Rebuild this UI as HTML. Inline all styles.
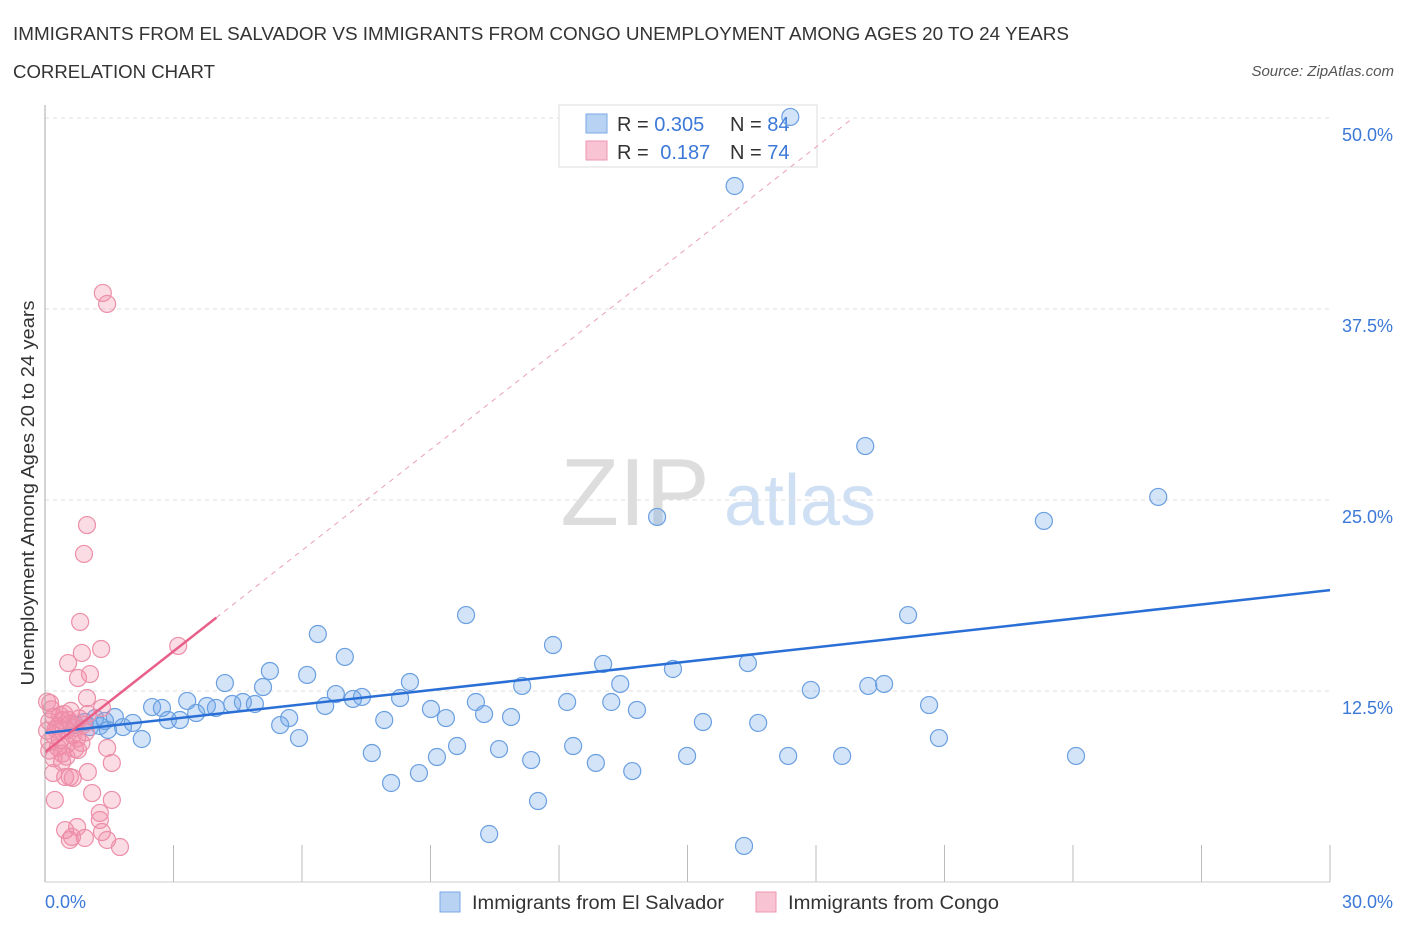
<!DOCTYPE html>
<html><head><meta charset="utf-8"><style>
body{margin:0;background:#fff;font-family:"Liberation Sans",sans-serif;}
svg text{font-family:"Liberation Sans",sans-serif;}
</style></head><body>
<svg id="chart" width="1406" height="930" xmlns="http://www.w3.org/2000/svg">
<text x="13" y="40" font-size="18" fill="#333" textLength="1056" lengthAdjust="spacingAndGlyphs">IMMIGRANTS FROM EL SALVADOR VS IMMIGRANTS FROM CONGO UNEMPLOYMENT AMONG AGES 20 TO 24 YEARS</text>
<text x="13" y="78" font-size="18" fill="#333" textLength="202" lengthAdjust="spacingAndGlyphs">CORRELATION CHART</text>
<text x="1394" y="76" font-size="15" fill="#555" text-anchor="end" font-style="italic">Source: ZipAtlas.com</text>
<g>
<text x="635" y="525" font-size="96" fill="#ddd" text-anchor="middle" font-family="Liberation Serif">ZIP</text>
<text x="800" y="525" font-size="72" fill="#d0e0f4" text-anchor="middle">atlas</text>
</g>
<g id="grid"></g><g id="ticks"></g>
<g>
<rect x="559" y="105" width="258" height="62" fill="#fff" stroke="#ddd"/>
<rect x="586" y="114" width="21" height="19" fill="#b8d2f4" stroke="#7aa8e6"/>
<rect x="586" y="141" width="21" height="19" fill="#f8c4d4" stroke="#ec96b0"/>
<text x="617" y="131" font-size="20" fill="#333">R = <tspan fill="#3b78d8">0.305</tspan><tspan x="730">N = </tspan><tspan fill="#3b78d8">84</tspan></text>
<text x="617" y="159" font-size="20" fill="#333">R = <tspan fill="#3b78d8" dx="6">0.187</tspan><tspan x="730">N = </tspan><tspan fill="#3b78d8">74</tspan></text>
</g>
<g id="pts"></g><g id="lines"></g>
<line x1="45" y1="105" x2="45" y2="882" stroke="#aaa"/>
<text transform="translate(34,493) rotate(-90)" font-size="18" fill="#333" text-anchor="middle" textLength="385" lengthAdjust="spacingAndGlyphs">Unemployment Among Ages 20 to 24 years</text>
<text x="45" y="908" font-size="18" fill="#3b78d8">0.0%</text>
<text x="1393" y="908" font-size="18" fill="#3b78d8" text-anchor="end">30.0%</text>
<g>
<rect x="440" y="892" width="20" height="20" fill="#b8d2f4" stroke="#7aa8e6"/>
<text x="472" y="909" font-size="19" fill="#333" textLength="252" lengthAdjust="spacingAndGlyphs">Immigrants from El Salvador</text>
<rect x="756" y="892" width="20" height="20" fill="#f8c4d4" stroke="#ec96b0"/>
<text x="788" y="909" font-size="19" fill="#333" textLength="211" lengthAdjust="spacingAndGlyphs">Immigrants from Congo</text>
</g>
</svg>
<script>
const yTicks=[12.5,25,37.5,50];
const yTickLabels=["12.5%","25.0%","37.5%","50.0%"];
const xTicks=[0,3,6,9,12,15,18,21,24,27,30];
const blueX=[17.4,16.1,19.15,25.99,23.32,14.29,20.15,9.83,6.37,11.86,7.0,13.03,5.25,6.12,8.52,14.66,16.41,13.43,11.14,5.09,4.2,17.88,19.22,19.59,6.79,7.4,7.19,8.29,10.06,12.19,13.22,20.64,3.32,2.5,2.73,3.78,3.99,4.37,4.62,4.9,3.53,6.54,9.01,10.25,13.82,2.87,3.15,9.36,10.88,5.7,5.49,7.92,15.36,16.65,1.63,2.05,1.4,1.82,1.05,1.28,2.26,5.93,20.87,9.62,10.6,12.33,7.63,9.15,11.35,14.99,17.35,18.61,24.07,12.86,13.71,8.73,8.08,11.51,10.37,16.32,0.93,1.17,0.7,1.47];
const blueY=[50.07,45.55,28.53,25.2,23.63,23.89,17.47,17.47,16.23,15.51,14.73,14.27,13.81,13.55,13.09,13.94,14.33,12.96,12.83,12.76,13.02,12.57,12.83,12.96,12.3,12.11,11.98,12.04,11.78,11.78,11.78,11.58,11.85,11.45,11.39,11.52,11.39,11.65,11.78,11.65,11.06,11.52,11.32,10.99,11.26,10.6,10.6,10.73,10.8,10.73,10.27,10.6,10.47,10.41,10.8,10.41,10.54,10.14,10.14,10.21,9.36,9.42,9.42,8.9,8.7,8.9,8.44,8.18,7.98,8.25,8.25,8.25,8.25,7.79,7.26,7.13,6.48,5.3,3.14,2.36,10.47,10.73,10.27,9.95];
const pinkX=[1.35,1.45,0.98,0.91,0.82,0.86,1.31,0.54,1.05,0.77,0.98,3.11,0.12,1.33,0.77,1.45,1.56,1.0,0.4,0.19,0.58,0.47,0.65,1.1,0.23,1.56,1.28,1.28,0.47,0.75,0.63,0.93,1.33,1.45,1.75,0.58,0.1,0.2,0.3,0.4,0.5,0.6,0.7,0.2,0.35,0.5,0.1,0.65,0.8,0.45,0.25,0.55,0.3,0.1,0.4,0.15,0.6,0.9,0.75,0.05,0.35,0.5,0.2,0.95,1.0,0.7,0.85,0.05];
const pinkY=[38.55,37.83,23.36,21.47,17.02,14.99,15.25,14.33,13.61,13.35,12.04,15.45,11.71,11.39,8.64,8.77,7.79,7.2,7.85,7.13,6.87,6.87,6.81,5.82,5.37,5.37,4.52,4.06,3.4,3.6,2.95,2.88,3.27,2.75,2.29,2.75,10.5,10.8,10.2,10.6,9.9,10.4,10.1,9.6,9.3,9.0,9.2,9.6,10.7,11.0,10.0,10.6,8.8,8.6,8.4,11.3,11.2,10.3,9.4,9.9,10.9,8.2,8.1,9.8,11.0,8.7,9.1,11.8];
const blueTrend=[9.75,19.1];   // y at x=0 and x=30
const pinkTrend=[8.5,2.2];     // intercept, slope
const pinkSolidEnd=4.0;

const X=v=>45+v/30*1285, Y=v=>882-v/50*764;
const NS="http://www.w3.org/2000/svg";
function mk(tag,attrs,parent){const e=document.createElementNS(NS,tag);for(const k in attrs)e.setAttribute(k,attrs[k]);document.getElementById(parent).appendChild(e);return e;}
yTicks.forEach((t,i)=>{
  const g=mk('line',{x1:45,x2:1330,y1:Y(t),y2:Y(t),stroke:'#ddd','stroke-dasharray':'4,4'},'grid');
  
  
  const l=mk('text',{x:1393,y:Y(t)+23,'font-size':18,fill:'#3b78d8','text-anchor':'end'},'grid');
  l.textContent=yTickLabels[i];
  
  
});
xTicks.forEach(t=>{
  const e=mk('line',{x1:X(t),x2:X(t),y1:845,y2:882,stroke:'#bbb'},'ticks');
  
  
});
const bl=mk('line',{x1:45,x2:1330,y1:882,y2:882,stroke:'#ccc'},'ticks');


blueX.forEach((x,i)=>{
  const c=mk('circle',{cx:X(x),cy:Y(blueY[i]),r:8.5,fill:'rgba(110,165,235,0.3)',stroke:'#6a9fe0','stroke-width':1.2},'pts');
  
  
});
pinkX.forEach((x,i)=>{
  const c=mk('circle',{cx:X(x),cy:Y(pinkY[i]),r:8.5,fill:'rgba(242,140,170,0.3)',stroke:'#ec8fa8','stroke-width':1.2},'pts');
  
  
});
const bt=mk('line',{x1:X(0),y1:Y(blueTrend[0]),x2:X(30),y2:Y(blueTrend[1]),stroke:'#2a6fd6','stroke-width':2.5},'lines');


const xEnd=(50-pinkTrend[0])/pinkTrend[1];
const pd=mk('line',{x1:X(pinkSolidEnd),y1:Y(pinkTrend[0]+pinkTrend[1]*pinkSolidEnd),x2:X(xEnd),y2:Y(50),stroke:'#eaa0b6','stroke-width':1,'stroke-dasharray':'5,5'},'lines');


const pt=mk('line',{x1:X(0),y1:Y(pinkTrend[0]),x2:X(pinkSolidEnd),y2:Y(pinkTrend[0]+pinkTrend[1]*pinkSolidEnd),stroke:'#e8608a','stroke-width':2.5},'lines');


</script>
</body></html>
